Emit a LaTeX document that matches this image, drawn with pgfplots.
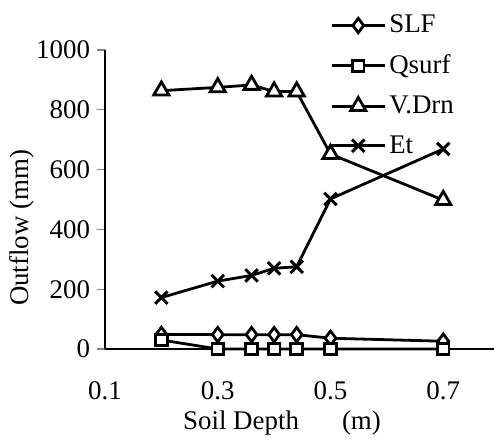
\documentclass[border=0pt]{standalone}
\usepackage{fontspec}
\setmainfont{Liberation Serif}
\usepackage{pgfplots}
\pgfplotsset{compat=1.18}

\begin{document}
\begin{tikzpicture}
\useasboundingbox (-52.5bp,-46bp) rectangle (194.5bp,174.5bp);
\begin{axis}[
    at={(0,0)}, anchor=south west,
    scale only axis=true,
    width=194.5bp, height=149.5bp,
    xmin=0.1, xmax=0.79,
    ymin=0, ymax=1000,
    clip=false,
    axis x line=bottom, axis y line=left,
    axis line style={-, line width=0.7pt},
    xtick={0.1,0.3,0.5,0.7},
    xticklabels={0.1,0.3,0.5,0.7},
    ytick={0,200,400,600,800,1000},
    x tick style={draw=none},
    y tick style={line width=0.7pt},
    tick align=outside,
    major tick length=4bp,
    /pgf/number format/assume math mode=true,
    /pgf/number format/1000 sep={},
    tick label style={font=\fontsize{13.5}{16}\selectfont},
    xticklabel style={yshift=-9bp},
    xlabel={Soil Depth\hspace{1.6em}(m)},
    ylabel={Outflow (mm)},
    every axis x label/.style={at={(rel axis cs:0.455,-0.247)}, anchor=center,
        font=\fontsize{13.5}{16}\selectfont},
    every axis y label/.style={at={(rel axis cs:-0.213,0.405)}, rotate=90, anchor=center,
        font=\fontsize{13.5}{16}\selectfont},
    every axis plot/.append style={black, line width=1.4pt, mark options={solid, line width=1.4pt, fill=white}},
    legend style={at={(rel axis cs:0.578,1.128)}, anchor=north west, draw=none, fill=none,
        font=\fontsize{13.5}{16}\selectfont, row sep=6.5bp, inner sep=0pt,
        nodes={inner sep=1.5bp}},
    legend cell align=left,
    legend image code/.code={\draw[mark repeat=2,mark phase=2] plot coordinates {(0cm,0cm) (0.47cm,0cm) (0.94cm,0cm)};},
]
\addplot[mark=diamond*, mark size=3.6pt] coordinates {
(0.2,49) (0.3,48) (0.36,48) (0.4,48) (0.44,48) (0.5,36) (0.7,26)
};
\addlegendentry{SLF}
\addplot[mark=square*, mark size=2.9pt] coordinates {
(0.2,30) (0.3,0) (0.36,0) (0.4,0) (0.44,0) (0.5,0) (0.7,0)
};
\addlegendentry{Qsurf}
\addplot[mark=triangle*, mark size=4.4pt] coordinates {
(0.2,864) (0.3,875) (0.36,883) (0.4,861) (0.44,861) (0.5,652) (0.7,498)
};
\addlegendentry{V.Drn}
\addplot[mark=x, mark size=4.4pt, mark options={line width=1.5pt}] coordinates {
(0.2,172) (0.3,227) (0.36,246) (0.4,270) (0.44,275) (0.5,502) (0.7,669)
};
\addlegendentry{Et}
\end{axis}
\end{tikzpicture}
\end{document}
